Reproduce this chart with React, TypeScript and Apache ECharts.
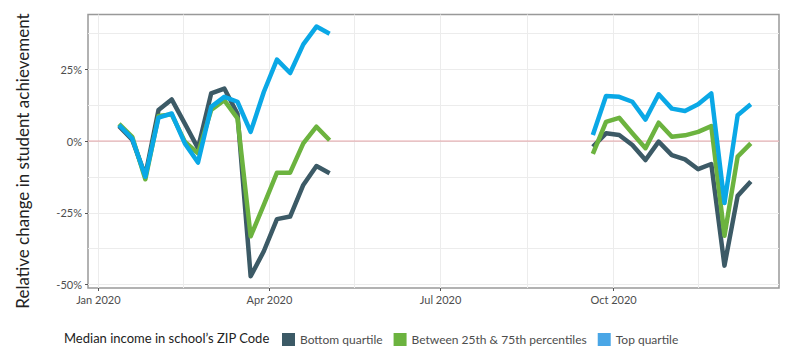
import React, { useEffect, useRef } from "react";
import * as echarts from "echarts";

const springWeeks = ["2020-01-12","2020-01-19","2020-01-26","2020-02-02","2020-02-09","2020-02-16","2020-02-23","2020-03-01","2020-03-08","2020-03-15","2020-03-22","2020-03-29","2020-04-05","2020-04-12","2020-04-19","2020-04-26","2020-05-03"];
const fallWeeks = ["2020-09-20","2020-09-27","2020-10-04","2020-10-11","2020-10-18","2020-10-25","2020-11-01","2020-11-08","2020-11-15","2020-11-22","2020-11-29","2020-12-06","2020-12-13"];

const bottomSpring = [5.2, 0.5, -12, 10.8, 14.5, 6.1, -2.5, 16.6, 18.3, 9.5, -47.1, -38.4, -27.2, -26.3, -15.3, -8.7, -11.2];
const middleSpring = [6, 1.5, -13.3, 8.7, 9.3, -0.2, -4.3, 10.8, 14.2, 7.9, -33.2, -22.2, -11, -11, -0.8, 5, 0.3];
const topSpring = [5.6, 0.9, -12.4, 8.2, 9.6, -0.8, -7.5, 11.9, 15.4, 13.7, 3.2, 17.1, 28.4, 23.7, 33.7, 39.9, 37.4];

const bottomFall = [-2, 2.7, 2.1, -1.4, -6.6, -0.2, -4.9, -6.4, -9.8, -8, -43.4, -19.1, -14.1];
const middleFall = [-4.5, 6.7, 8.1, 2.7, -2.5, 6.4, 1.5, 2, 3.2, 5.2, -33, -5.4, -0.8];
const topFall = [2.1, 15.7, 15.4, 13.7, 7.5, 16.3, 11.3, 10.5, 12.8, 16.6, -21.6, 9, 12.8];

const groupNames = ["Bottom quartile", "Between 25th & 75th percentiles", "Top quartile"];
const groupColors = ["#3c5a66", "#6cb33f", "#0aa8e6"];
const legendColors = ["#3c5a66", "#6cb33f", "#4aa6e6"];

const xMajorDates = ["2020-01-01", "2020-04-01", "2020-07-01", "2020-10-01"];
const xMajorLabels = ["Jan 2020", "Apr 2020", "Jul 2020", "Oct 2020"];
const xMinorDates = ["2020-02-15", "2020-05-16", "2020-08-16", "2020-11-15"];
const xRangeDates = ["2019-12-26", "2020-12-28"];

const yMajor = [-50, -25, 0, 25];
const yMinor = [-37.5, -12.5, 12.5, 37.5];
const yRange = [-51.2, 44.1];
const zeroValue = 0;

const FONT = "Lato, 'Noto Sans', sans-serif";

function dayOf(s: string): number {
  const [y, m, d] = s.split("-").map(Number);
  return (Date.UTC(y, m - 1, d) - Date.UTC(2020, 0, 1)) / 86400000;
}

export default function App() {
  const ref = useRef<HTMLDivElement>(null);
  useEffect(() => {
    if (!ref.current) return;
    const chart = echarts.init(ref.current, undefined, { renderer: "svg" });
    const xMajor = xMajorDates.map(dayOf);
    const xAll = [...xMajor, ...xMinorDates.map(dayOf)].sort((a, b) => a - b);
    const yAll = [...yMajor, ...yMinor].sort((a, b) => a - b);
    const xMin = dayOf(xRangeDates[0]) + 0.5;
    const xMax = dayOf(xRangeDates[1]);

    const springSets = [bottomSpring, middleSpring, topSpring];
    const fallSets = [bottomFall, middleFall, topFall];
    const series: any[] = [];

    // zero reference line spanning the x range
    series.push({
      type: "line",
      name: "zero",
      data: [[xMin, zeroValue], [xMax, zeroValue]],
      xAxisIndex: 0,
      yAxisIndex: 0,
      silent: true,
      showSymbol: false,
      symbol: "none",
      z: 2,
      itemStyle: { color: "#e4a2a6" },
      lineStyle: { color: "#e4a2a6", width: 1 },
    });

    groupNames.forEach((name, gi) => {
      const base = {
        type: "line",
        name,
        showSymbol: false,
        symbol: "none",
        xAxisIndex: 0,
        yAxisIndex: 0,
        itemStyle: { color: groupColors[gi] },
        lineStyle: { width: 4.5, color: groupColors[gi], cap: "butt", join: "round" },
        z: 3 + gi,
        silent: true,
      };
      series.push({ ...base, data: springWeeks.map((d, i) => [dayOf(d), springSets[gi][i]]) });
      series.push({ ...base, data: fallWeeks.map((d, i) => [dayOf(d), fallSets[gi][i]]) });
    });

    const labelFor = (v: number) => {
      const idx = xMajor.findIndex((m) => Math.abs(m - v) < 0.01);
      return idx >= 0 ? xMajorLabels[idx] : "";
    };

    chart.setOption({
      animation: false,
      title: {
        text: "Median income in school\u2019s ZIP Code",
        left: 59,
        top: 326,
        textStyle: { fontFamily: FONT, fontSize: 13, fontWeight: "normal", color: "#222" },
      },
      legend: {
        left: 277,
        top: 328,
        itemWidth: 13,
        itemHeight: 13,
        itemGap: 11,
        icon: "rect",
        data: groupNames.map((n, i) => ({ name: n, itemStyle: { color: legendColors[i] } })),
        textStyle: { fontFamily: FONT, fontSize: 12, color: "#4d4d4d" },
      },
      grid: {
        left: 88,
        right: 21,
        top: 14.5,
        bottom: 68,
        show: true,
        borderColor: "#999",
        borderWidth: 1.5,
        backgroundColor: "transparent",
      },
      graphic: [
        {
          type: "text",
          x: 22,
          y: 161,
          rotation: Math.PI / 2,
          style: {
            text: "Relative change in student achievement",
            fontFamily: FONT,
            fontSize: 17,
            fill: "#222",
            align: "center",
            verticalAlign: "middle",
          },
        },
      ],
      xAxis: [
        {
          type: "value",
          min: xMin,
          max: xMax,
          axisLine: { show: false, onZero: false },
          axisTick: { show: false, customValues: xAll },
          axisLabel: {
            customValues: xMajor,
            formatter: labelFor,
            fontFamily: FONT,
            fontSize: 11,
            color: "#4d4d4d",
            margin: 6,
          },
          splitLine: { show: true, lineStyle: { color: "#ececec", width: 1 } },
        },
        {
          type: "value",
          position: "bottom",
          offset: 0,
          min: xMin,
          max: xMax,
          axisLine: { show: false, onZero: false },
          axisTick: { show: true, length: 3, customValues: xMajor, lineStyle: { color: "#555" } },
          axisLabel: { show: false },
          splitLine: { show: false },
        },
      ],
      yAxis: [
        {
          type: "value",
          min: yRange[0],
          max: yRange[1],
          axisLine: { show: false, onZero: false },
          axisTick: { show: false, customValues: yAll },
          axisLabel: {
            customValues: yMajor,
            formatter: (v: number) => `${v}%`,
            fontFamily: FONT,
            fontSize: 11,
            color: "#4d4d4d",
            margin: 6,
          },
          splitLine: { show: true, lineStyle: { color: "#ececec", width: 1 } },
        },
        {
          type: "value",
          position: "left",
          offset: 0,
          min: yRange[0],
          max: yRange[1],
          axisLine: { show: false, onZero: false },
          axisTick: { show: true, length: 3, customValues: yMajor, lineStyle: { color: "#555" } },
          axisLabel: { show: false },
          splitLine: { show: false },
        },
      ],
      series,
    });
    return () => chart.dispose();
  }, []);
  return (
    <div
      ref={ref}
      style={{ position: "fixed", left: 0, top: 0, width: 800, height: 356, background: "#fff" }}
    />
  );
}
